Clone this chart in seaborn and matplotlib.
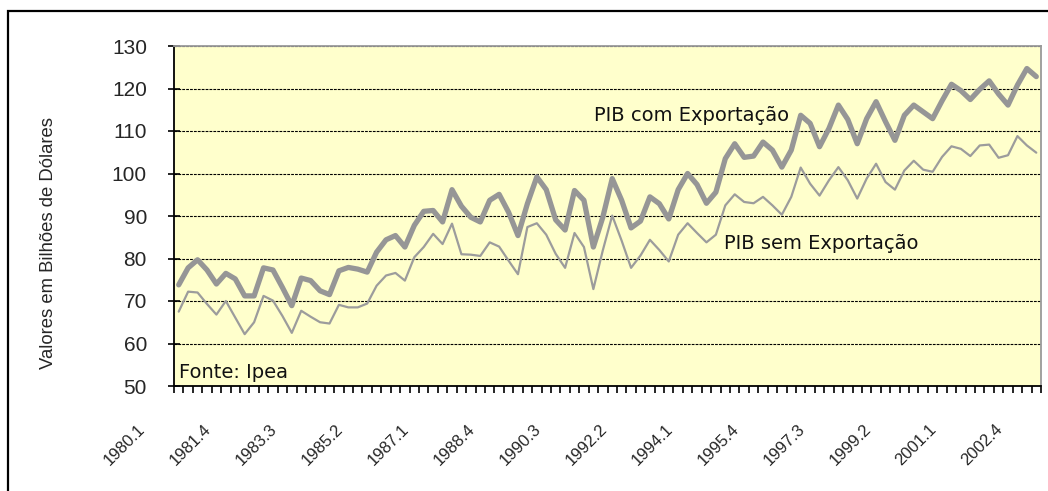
import numpy as np
import pandas as pd
import seaborn as sns
import matplotlib.pyplot as plt
from matplotlib.patches import Rectangle
from matplotlib.transforms import ScaledTranslation, blended_transform_factory

###
### DATA (quarterly 1980.1 - 2002.4)
###

quarters = [f"{y}.{q}" for y in range(1980, 2003) for q in range(1, 5)]

pib_com_exp = [73.8, 77.8, 79.7, 77.3, 74.0, 76.5, 75.2, 71.2, 71.2, 77.8,
               77.3, 73.2, 68.9, 75.4, 74.8, 72.4, 71.5, 77.1, 77.9, 77.5,
               76.8, 81.5, 84.4, 85.4, 82.7, 87.8, 91.1, 91.3, 88.6, 96.2,
               92.3, 89.7, 88.6, 93.7, 95.1, 90.9, 85.4, 92.9, 99.2, 96.2,
               89.1, 86.7, 96.0, 93.7, 82.7, 89.7, 98.8, 93.7, 87.2, 88.8,
               94.5, 92.9, 89.3, 96.2, 100.0, 97.4, 93.0, 95.6, 103.5, 107.0,
               103.8, 104.1, 107.4, 105.5, 101.5, 105.5, 113.7, 111.8, 106.3, 110.6,
               116.1, 112.7, 107.0, 112.9, 116.9, 112.2, 107.8, 113.7, 116.1, 114.5,
               112.9, 117.1, 121.0, 119.5, 117.4, 119.8, 121.8, 118.7, 116.1, 120.8,
               124.7, 122.8]

pib_sem_exp = [67.5, 72.2, 72.0, 69.3, 66.8, 70.0, 66.1, 62.2, 65.0, 71.2,
               70.1, 66.5, 62.5, 67.7, 66.3, 65.0, 64.7, 69.1, 68.5, 68.5,
               69.4, 73.6, 76.0, 76.6, 74.8, 80.3, 82.7, 85.8, 83.4, 88.2,
               81.0, 80.9, 80.6, 83.8, 82.8, 79.5, 76.3, 87.4, 88.3, 85.6,
               81.1, 77.8, 86.0, 82.7, 72.8, 81.9, 90.1, 84.2, 77.8, 80.7,
               84.4, 82.0, 79.3, 85.6, 88.3, 86.0, 83.8, 85.6, 92.5, 95.1,
               93.3, 93.0, 94.5, 92.5, 90.3, 94.5, 101.4, 97.6, 94.8, 98.4,
               101.5, 98.4, 94.1, 98.8, 102.3, 98.0, 96.2, 100.7, 103.0, 100.9,
               100.4, 103.9, 106.4, 105.8, 104.1, 106.6, 106.8, 103.7, 104.3, 108.8,
               106.6, 104.9]

tick_labels = ['1980.1', '1981.4', '1983.3', '1985.2', '1987.1', '1988.4', '1990.3',
               '1992.2', '1994.1', '1995.4', '1997.3', '1999.2', '2001.1', '2002.4']

y_ticks = [50, 60, 70, 80, 90, 100, 110, 120, 130]

df = pd.DataFrame({'idx': np.arange(len(quarters)),
                   'trimestre': quarters,
                   'com': pib_com_exp,
                   'sem': pib_sem_exp})

###
### STYLE
###

sns.set_style("white")
plt.rcParams['font.family'] = ['Liberation Sans', 'DejaVu Sans']

fig = plt.figure(figsize=(10.48, 4.91), dpi=100)
ax = fig.add_axes([174 / 1048, 1 - 386 / 491, 867 / 1048, 340 / 491])
ax.set_facecolor('#FFFFCC')

### outer frame (runs off the right and bottom edges like in the source)
fig.patches.append(Rectangle((8 / 1048, -0.1), 1.1, (491 - 11.0) / 491 + 0.1,
                             transform=fig.transFigure, fill=False,
                             edgecolor='black', linewidth=1.6))

###
### LINES
###

sns.lineplot(data=df, x='idx', y='sem', ax=ax, color='#9c9c9c', linewidth=1.6)
sns.lineplot(data=df, x='idx', y='com', ax=ax, color='#969696', linewidth=3.8,
             solid_joinstyle='round', solid_capstyle='round')

###
### AXES
###

ax.set_xlim(-0.5, len(quarters) - 0.5)
ax.set_ylim(50, 130)
ax.set_yticks(y_ticks)
ax.set_yticklabels([str(v) for v in y_ticks], fontsize=15)
ax.yaxis.grid(True, color='black', linestyle=(0, (2.5, 1)), linewidth=0.8)
ax.set_axisbelow(True)

### category ticks sit between the quarters; labels every 7 quarters
ax.set_xticks(np.arange(-0.5, len(quarters), 1))
ax.set_xticklabels([])
ax.tick_params(axis='x', bottom=True, direction='out', length=5, width=1.2, color='black')
ax.tick_params(axis='y', left=True, direction='inout', length=9, width=1.2, color='black', pad=15)

lab_trans = blended_transform_factory(ax.transData, ax.transAxes) + \
    ScaledTranslation(-36 / 100, -41 / 100, fig.dpi_scale_trans)
for pos, lab in zip(np.arange(0, len(quarters), 7), tick_labels):
    ax.text(pos, 0, lab, transform=lab_trans, rotation=45, rotation_mode='anchor',
            ha='right', va='center', fontsize=12, clip_on=False)

ax.set_xlabel('')
ax.set_ylabel('Valores em Bilhões de Dólares', fontsize=13.3)
ax.yaxis.set_label_coords(-0.135, 0.42)

for side in ['left', 'bottom']:
    ax.spines[side].set_color('black')
    ax.spines[side].set_linewidth(1.3)
for side in ['top', 'right']:
    ax.spines[side].set_color('#9a9a9a')
    ax.spines[side].set_linewidth(1.3)

###
### TEXT
###

ann_font = ['DejaVu Sans']
ax.text(54.4, 113.6, 'PIB com Exportação', fontsize=14, ha='center', va='center',
        color='#111111', family=ann_font)
ax.text(68.2, 83.6, 'PIB sem Exportação', fontsize=14, ha='center', va='center',
        color='#111111', family=ann_font)
ax.text(0.0, 51.0, 'Fonte: Ipea', fontsize=14, ha='left', va='bottom',
        color='#111111', family=ann_font)

fig.savefig('out.png', dpi=100)
